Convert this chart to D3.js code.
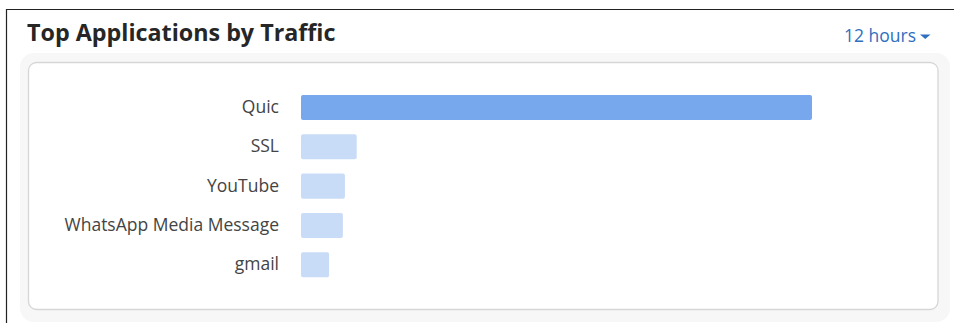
<!DOCTYPE html>
<html>
<head>
<meta charset="utf-8">
<script src="https://cdn.jsdelivr.net/npm/d3@7"></script>
<style>
  html, body { margin: 0; padding: 0; background: #fff; }
  svg { display: block; }
</style>
</head>
<body>
<svg id="chart" width="954" height="323"></svg>
<script>
const title = "Top Applications by Traffic";
const rangeLabel = "12 hours";
const categories = ["Quic", "SSL", "YouTube", "WhatsApp Media Message", "gmail"];
const values = [100, 10.9, 8.6, 8.2, 5.5];
const highlighted = ["Quic"];

const svg = d3.select("#chart");
const font = "'Open Sans', 'Noto Sans', sans-serif";

// outer frame lines
svg.append("line").attr("x1", 6).attr("x2", 954).attr("y1", 9.5).attr("y2", 9.5)
  .attr("stroke", "#222").attr("stroke-width", 1.2);
svg.append("line").attr("x1", 6.5).attr("x2", 6.5).attr("y1", 9).attr("y2", 323)
  .attr("stroke", "#222").attr("stroke-width", 1.2);

// title
svg.append("text").attr("x", 27).attr("y", 41)
  .attr("font-family", font).attr("font-weight", 700).attr("font-size", 23.3)
  .attr("fill", "#262626").text(title);

// dropdown
svg.append("text").attr("x", 916).attr("y", 42)
  .attr("text-anchor", "end")
  .attr("font-family", font).attr("font-size", 17.5)
  .attr("fill", "#2f6fbf").text(rangeLabel);
svg.append("path").attr("d", "M920,34.5 L930.5,34.5 L925.25,39 Z").attr("fill", "#2f6fbf");

// card halo + card
svg.append("rect").attr("x", 20).attr("y", 53).attr("width", 930).attr("height", 269)
  .attr("rx", 14).attr("fill", "#f7f7f7");
svg.append("rect").attr("x", 28.5).attr("y", 62.5).attr("width", 909.5).attr("height", 247)
  .attr("rx", 8).attr("fill", "#fff").attr("stroke", "#d6d6d6").attr("stroke-width", 1.3);

// scales
const y = d3.scaleBand().domain(categories).range([88, 284.25]).paddingInner(0.363).paddingOuter(0.18);
const x = d3.scaleLinear().domain([0, d3.max(values)]).range([301, 812]);

const data = categories.map((c, i) => ({ c, v: values[i] }));

svg.append("g").selectAll("rect").data(data).join("rect")
  .attr("x", x(0))
  .attr("y", d => y(d.c))
  .attr("width", d => x(d.v) - x(0))
  .attr("height", y.bandwidth())
  .attr("rx", 2)
  .attr("fill", d => highlighted.includes(d.c) ? "#77a8ee" : "#c9dcf7");

const yAxis = d3.axisLeft(y).tickSize(0).tickPadding(0);
const ag = svg.append("g").attr("transform", "translate(279,0)").call(yAxis);
ag.select(".domain").remove();
ag.selectAll("text").attr("font-family", font).attr("font-size", 17.5)
  .attr("fill", "#444").attr("dy", "0.32em");
</script>
</body>
</html>
